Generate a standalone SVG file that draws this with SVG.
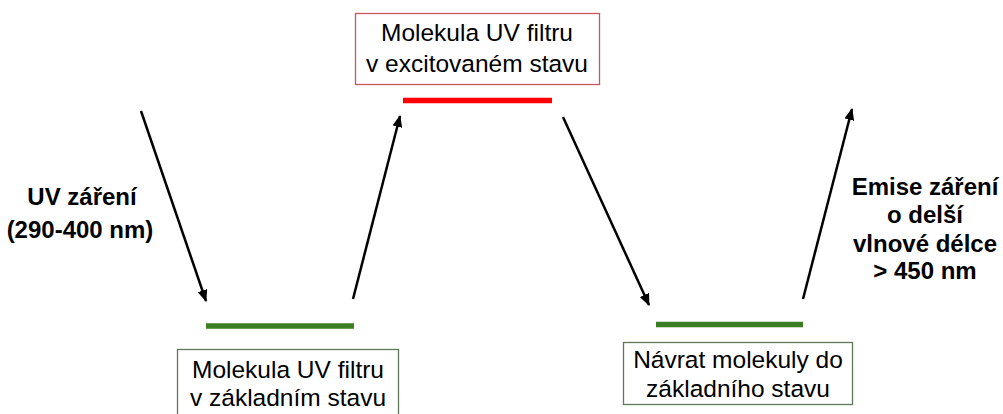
<svg xmlns="http://www.w3.org/2000/svg" width="1003" height="414" viewBox="0 0 1003 414">
<defs>
<style>
.t{font-family:"Liberation Sans",Arial,sans-serif;font-size:24.5px;fill:#000;text-anchor:middle}
.b{font-family:"Liberation Sans",Arial,sans-serif;font-size:24px;font-weight:bold;fill:#000;text-anchor:middle}
.box{fill:#fff;stroke-width:1.3}
.conn{stroke:#000;stroke-width:2.5;fill:none;marker-end:url(#ah)}
</style>
<marker id="ah" markerUnits="userSpaceOnUse" markerWidth="12" markerHeight="10" refX="11" refY="5" orient="auto">
<path d="M0,0 L12,5 L0,10 Z" fill="#000"/>
</marker>
</defs>
<rect width="1003" height="414" fill="#fff"/>
<g id="excited">
<rect class="box" x="355.5" y="13.5" width="244" height="71" stroke="#c8585c"/>
<text class="t" x="477" y="41">Molekula UV filtru</text>
<text class="t" x="477" y="72">v excitovaném stavu</text>
<line x1="403" y1="100.5" x2="552" y2="100.5" stroke="#ff0000" stroke-width="5.5"/>
</g>
<g id="ground">
<line x1="206" y1="326" x2="354" y2="326" stroke="#3a7d22" stroke-width="5.5"/>
<rect class="box" x="177.5" y="349.5" width="221" height="80" stroke="#60785a"/>
<text class="t" x="288" y="378">Molekula UV filtru</text>
<text class="t" x="288" y="406">v základním stavu</text>
</g>
<g id="return">
<line x1="656" y1="324.5" x2="803" y2="324.5" stroke="#3a7d22" stroke-width="5.5"/>
<rect class="box" x="623.5" y="342.5" width="229" height="62" stroke="#60785a"/>
<text class="t" x="738" y="368">Návrat molekuly do</text>
<text class="t" x="738" y="397">základního stavu</text>
</g>
<g id="uv-label">
<text class="b" x="82" y="205">UV záření</text>
<text class="b" x="80" y="238">(290-400 nm)</text>
</g>
<g id="emission-label">
<text class="b" x="925" y="195">Emise záření</text>
<text class="b" x="925" y="223">o delší</text>
<text class="b" x="925" y="252">vlnové délce</text>
<text class="b" x="925" y="279">&gt; 450 nm</text>
</g>
<g id="connectors">
<line class="conn" x1="141" y1="111" x2="206" y2="301"/>
<line class="conn" x1="353" y1="299" x2="400" y2="116"/>
<line class="conn" x1="563" y1="117" x2="649" y2="305"/>
<line class="conn" x1="803" y1="299" x2="852" y2="109"/>
</g>
</svg>
